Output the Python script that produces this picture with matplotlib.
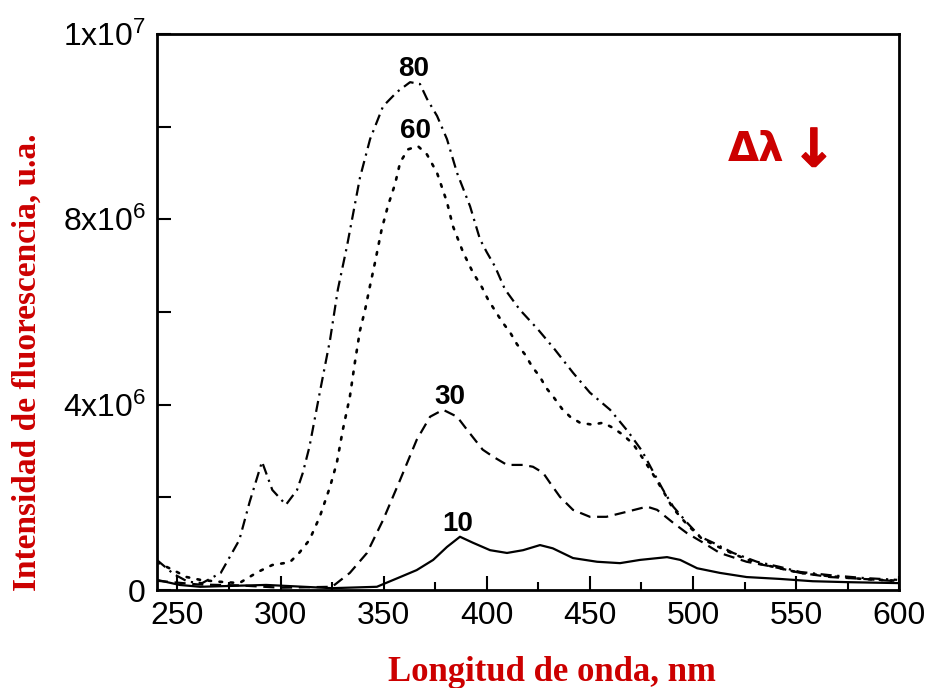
import matplotlib
matplotlib.use("Agg")
import matplotlib.pyplot as plt
import matplotlib.patheffects as pe
from matplotlib.ticker import FixedLocator, FixedFormatter, MultipleLocator

plt.rcParams['font.family'] = ['Liberation Sans', 'DejaVu Sans']
plt.rcParams['mathtext.fontset'] = 'custom'
plt.rcParams['mathtext.rm'] = 'Liberation Sans'

# ---- data (intensity in units of 1e6) ----
wl_80 = [240, 248, 255, 262, 271, 280, 285, 291, 296, 302.6, 308, 310.8, 314, 319, 324, 327.8, 332.2,
         338.5, 343.4, 349.7, 356.5, 362.8, 367.6, 371, 375.9, 380.7, 385.6, 391.9, 396.7, 400, 404,
         408.8, 416, 424.9, 433, 441.8, 450, 459.8, 468.5, 475.3, 480.7, 485.5, 490.4, 497.2, 503.5,
         509.8, 519.5, 531, 542, 552, 566.5, 582.5, 599]
int_80 = [0.65, 0.35, 0.18, 0.15, 0.37, 1.08, 1.9, 2.77, 2.16, 1.84, 2.16, 2.53, 3.09, 4.26, 5.4, 6.49,
          7.42, 8.9, 9.73, 10.44, 10.75, 10.96, 10.92, 10.6, 10.23, 9.73, 9.0, 8.28, 7.57, 7.29, 6.98,
          6.49, 6.05, 5.62, 5.19, 4.69, 4.26, 3.89, 3.42, 3.0, 2.55, 2.16, 1.8, 1.45, 1.15, 1.02, 0.8,
          0.61, 0.5, 0.39, 0.32, 0.26, 0.22]

wl_60 = [240, 248, 254.5, 261, 270, 280, 289, 296, 304.5, 309, 314, 319, 324, 327.3, 330.2, 333.6, 336,
         338.5, 341, 343.3, 345.8, 349, 352, 355.5, 358, 361.8, 366.6, 371, 375.9, 380.7, 383.6, 388.5,
         393.3, 397.7, 400.6, 404, 407.4, 411.3, 414.7, 418.6, 422, 425.8, 428.7, 432.6, 436.5, 440.4,
         445.2, 451, 456.4, 461.2, 466, 471, 476, 481, 486, 490, 497, 504, 510, 520, 531, 542, 552,
         566, 582, 599]
int_60 = [0.6, 0.43, 0.28, 0.22, 0.18, 0.15, 0.39, 0.54, 0.6, 0.8, 1.08, 1.58, 2.23, 2.75, 3.46, 4.17,
          4.9, 5.6, 6.05, 6.55, 7.07, 7.78, 8.28, 8.76, 9.23, 9.51, 9.58, 9.4, 9.0, 8.37, 7.85, 7.29,
          6.85, 6.53, 6.27, 6.03, 5.79, 5.56, 5.3, 5.08, 4.82, 4.6, 4.37, 4.15, 3.91, 3.74, 3.61, 3.57,
          3.61, 3.5, 3.35, 3.15, 2.82, 2.47, 2.1, 1.78, 1.42, 1.12, 0.98, 0.77, 0.58, 0.47, 0.37, 0.3,
          0.24, 0.2]

wl_30 = [240, 260, 280, 300, 325, 333.6, 341.9, 349.7, 358, 366, 372.5, 378.8, 385.6, 390.4, 398, 403,
         409.8, 417.6, 422.4, 427.3, 430.7, 435.5, 441.8, 450, 458, 468, 477.7, 482.6, 490.4, 497, 505,
         513, 526, 539, 552, 566.5, 582.5, 599]
int_30 = [0.2, 0.12, 0.1, 0.05, 0.07, 0.37, 0.8, 1.51, 2.38, 3.24, 3.74, 3.89, 3.74, 3.46, 3.03, 2.88,
          2.7, 2.7, 2.66, 2.53, 2.31, 2.01, 1.73, 1.58, 1.58, 1.69, 1.8, 1.73, 1.45, 1.23, 1.02, 0.8,
          0.61, 0.5, 0.37, 0.28, 0.24, 0.19]

wl_10 = [240, 251, 261, 293, 325, 346.7, 358, 366, 374, 380.7, 387, 393.3, 401.6, 409.8, 417.6, 425.8,
         432, 441.8, 453.5, 464.6, 474.3, 487.4, 493.8, 502, 513, 526, 542, 558, 574.8, 599]
int_10 = [0.22, 0.11, 0.07, 0.11, 0.04, 0.07, 0.28, 0.43, 0.65, 0.93, 1.15, 1.02, 0.86, 0.8, 0.86, 0.97,
          0.9, 0.69, 0.61, 0.58, 0.65, 0.71, 0.65, 0.47, 0.37, 0.28, 0.24, 0.19, 0.17, 0.15]

curve_labels = ["80", "60", "30", "10"]
label_pos_wl = [364.7, 365.2, 382.2, 386.0]
label_pos_int = [11.24, 9.9, 4.17, 1.43]

x_ticks = [250, 300, 350, 400, 450, 500, 550, 600]
y_ticks = [0, 2, 4, 6, 8, 10, 12]
y_tick_labels = ["0", "", r"$\mathregular{4x10^6}$", "", r"$\mathregular{8x10^6}$", "",
                 r"$\mathregular{1x10^7}$"]

RED = "#cc0000"

fig = plt.figure(figsize=(9.28, 6.88), dpi=100)
ax = fig.add_axes([0.169, 0.1424, 0.8, 0.8082])

lw = 1.6
ax.plot(wl_80, int_80, color="black", lw=lw, linestyle=(0, (5, 2.5, 1, 2.5)))
ax.plot(wl_60, int_60, color="black", lw=lw + 0.3, linestyle=(0, (1, 3.2)), dash_capstyle="round")
ax.plot(wl_30, int_30, color="black", lw=lw, linestyle=(0, (5, 3)))
ax.plot(wl_10, int_10, color="black", lw=lw, linestyle="-")

for t, xw, yi in zip(curve_labels, label_pos_wl, label_pos_int):
    ax.text(xw, yi, t, fontsize=20, fontweight="bold", ha="center", va="center")

ax.set_xlim(240, 600)
ax.set_ylim(0, 12)
ax.xaxis.set_major_locator(FixedLocator(x_ticks))
ax.xaxis.set_minor_locator(MultipleLocator(25))
ax.yaxis.set_major_locator(FixedLocator(y_ticks))
ax.yaxis.set_major_formatter(FixedFormatter(y_tick_labels))

ax.tick_params(axis="both", which="major", direction="in", length=10, width=1.5,
               labelsize=23, top=False, right=False)
ax.tick_params(axis="x", which="major", pad=8)
ax.tick_params(axis="y", which="major", pad=8)
ax.tick_params(axis="x", which="minor", direction="in", length=6, width=1.5, top=False)
for s in ax.spines.values():
    s.set_linewidth(2)

fig.text(0.029, 0.474, "Intensidad de fluorescencia, u.a.", rotation=90, color=RED,
         fontsize=24, fontweight="bold", family="Liberation Serif", ha="center", va="center")
fig.text(0.595, 0.023, "Longitud de onda, nm", color=RED, fontsize=25, fontweight="bold",
         family="Liberation Serif", ha="center", va="center")
fig.text(0.815, 0.782, "Δλ", color=RED, fontsize=29, fontweight="bold",
         family=["DejaVu Sans"], ha="center", va="center")
fig.text(0.877, 0.780, "↓", color=RED, fontsize=38, fontweight="bold",
         family=["DejaVu Sans"], ha="center", va="center",
         path_effects=[pe.withStroke(linewidth=1.0, foreground=RED)])

fig.savefig("out.png", dpi=100)
